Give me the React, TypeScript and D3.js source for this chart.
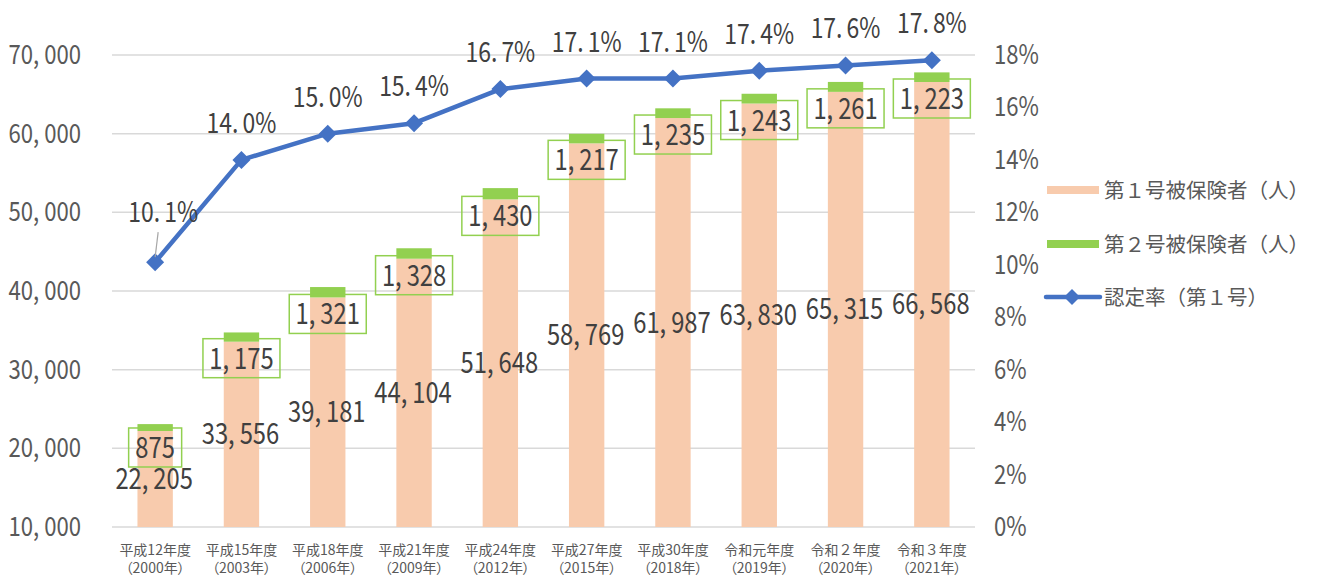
import React from "react";
import * as d3 from "d3";

const categories = ["平成12年度", "平成15年度", "平成18年度", "平成21年度", "平成24年度", "平成27年度", "平成30年度", "令和元年度", "令和２年度", "令和３年度"];
const years = ["（2000年）", "（2003年）", "（2006年）", "（2009年）", "（2012年）", "（2015年）", "（2018年）", "（2019年）", "（2020年）", "（2021年）"];
const type1 = [22205, 33556, 39181, 44104, 51648, 58769, 61987, 63830, 65315, 66568];
const type2 = [875, 1175, 1321, 1328, 1430, 1217, 1235, 1243, 1261, 1223];
const rate = [10.1, 14.0, 15.0, 15.4, 16.7, 17.1, 17.1, 17.4, 17.6, 17.8];
const leftTicks = [10000, 20000, 30000, 40000, 50000, 60000, 70000];
const rightTicks = [0, 2, 4, 6, 8, 10, 12, 14, 16, 18];
const legendLabels = ["第１号被保険者（人）", "第２号被保険者（人）", "認定率（第１号）"];

const PINK = "#f8cbad";
const GREEN = "#92d050";
const BLUE = "#4472c4";
const TXT = "#595959";
const LBL = "#404040";
const JP = "'Noto Sans CJK JP', sans-serif";

// splits "51,648" -> ["51,", "648"] so a gap can be drawn after the separator
function Gapped({ s, sep, gap }: { s: string; sep: string; gap: number }) {
  const parts = s.split(sep);
  return (
    <>
      {parts.map((p, i) => (
        <tspan key={i} dx={i > 0 ? gap : 0}>{p + (i < parts.length - 1 ? sep : "")}</tspan>
      ))}
    </>
  );
}

function CText({ x, y, size, anchor = "middle", sx = 0.82, fill = LBL, children }: any) {
  return (
    <text transform={`translate(${x},${y}) scale(${sx},1)`} textAnchor={anchor} fontFamily={JP} fontSize={size} fill={fill}>
      {children}
    </text>
  );
}

export default function App() {
  const x = d3.scaleBand<string>().domain(categories).range([112, 975]).paddingInner(0.59).paddingOuter(0.295);
  const yL = d3.scaleLinear().domain([10000, 70000]).range([527, 55]);
  const yR = d3.scaleLinear().domain([0, 18]).range([527, 55]);
  const fmt = d3.format(",");
  const cx = (c: string) => (x(c) as number) + x.bandwidth() / 2;
  const line = d3.line<number>().x((_, i) => cx(categories[i])).y((d) => yR(d));
  const bw = x.bandwidth();

  return (
    <svg width={1322} height={576} style={{ position: "absolute", left: 0, top: 0, background: "#fff" }}>
      {leftTicks.map((t) => (
        <g key={t}>
          <line x1={112} x2={975} y1={yL(t)} y2={yL(t)} stroke="#d9d9d9" strokeWidth={1.5} />
          <CText x={81} y={yL(t) + 9} size={27} anchor="end" fill={TXT}>
            <Gapped s={fmt(t)} sep="," gap={6} />
          </CText>
        </g>
      ))}
      {rightTicks.map((t) => (
        <CText key={t} x={994} y={yR(t) + 9} size={27} anchor="start" fill={TXT}>{t}%</CText>
      ))}
      {categories.map((c, i) => (
        <g key={c}>
          <rect x={x(c)} width={bw} y={yL(type1[i])} height={yL(10000) - yL(type1[i])} fill={PINK} />
          <rect x={x(c)} width={bw} y={yL(type1[i] + type2[i])} height={yL(type1[i]) - yL(type1[i] + type2[i])} fill={GREEN} />
          <CText x={cx(c) - 1} y={(yL(type1[i]) + yL(10000)) / 2 + 10} size={29}>
            <Gapped s={fmt(type1[i])} sep="," gap={6} />
          </CText>
        </g>
      ))}
      {categories.map((c, i) => {
        const s = fmt(type2[i]);
        const w = s.length * 12 + 17;
        const top = yL(type1[i]) - 3;
        return (
          <g key={"b" + c}>
            <rect x={cx(c) - w / 2} y={top} width={w} height={39} fill="none" stroke={GREEN} strokeWidth={1.5} />
            <CText x={cx(c)} y={top + 30} size={29}>
              <Gapped s={s} sep="," gap={6} />
            </CText>
          </g>
        );
      })}
      <path d={line(rate) || ""} fill="none" stroke={BLUE} strokeWidth={4.5} strokeLinejoin="round" />
      {rate.map((r, i) => {
        const px = cx(categories[i]);
        const py = yR(r);
        return <path key={"m" + i} d={`M${px},${py - 9}L${px + 9},${py}L${px},${py + 9}L${px - 9},${py}Z`} fill={BLUE} />;
      })}
      {rate.map((r, i) => {
        const px = cx(categories[i]);
        const py = yR(r);
        const label = <Gapped s={r.toFixed(1) + "%"} sep="." gap={5} />;
        if (i === 0) {
          return (
            <g key={"r" + i}>
              <line x1={px} y1={py - 5} x2={px + 3} y2={py - 30} stroke="#a6a6a6" strokeWidth={1.2} />
              <CText x={px + 8} y={py - 40} size={28}>{label}</CText>
            </g>
          );
        }
        return <CText key={"r" + i} x={px} y={py - 27} size={28}>{label}</CText>;
      })}
      {categories.map((c, i) => (
        <g key={"x" + c}>
          <text x={cx(c)} y={555} textAnchor="middle" fontFamily={JP} fontSize={14} fill={TXT}>{c}</text>
          <text x={cx(c)} y={573} textAnchor="middle" fontFamily={JP} fontSize={14} fill={TXT} style={{ fontFeatureSettings: '"palt"' }}>{years[i]}</text>
        </g>
      ))}
      <rect x={1047} y={186} width={52} height={8} fill={PINK} />
      <text x={1104} y={198} fontFamily={JP} fontSize={20.5} fill={TXT}>{legendLabels[0]}</text>
      <rect x={1047} y={240} width={52} height={8} fill={GREEN} />
      <text x={1104} y={252} fontFamily={JP} fontSize={20.5} fill={TXT}>{legendLabels[1]}</text>
      <line x1={1046} x2={1100} y1={297} y2={297} stroke={BLUE} strokeWidth={4.5} strokeLinecap="round" />
      <path d="M1072,289L1080,297L1072,305L1064,297Z" fill={BLUE} />
      <text x={1104} y={305} fontFamily={JP} fontSize={20.5} fill={TXT}>{legendLabels[2]}</text>
    </svg>
  );
}
